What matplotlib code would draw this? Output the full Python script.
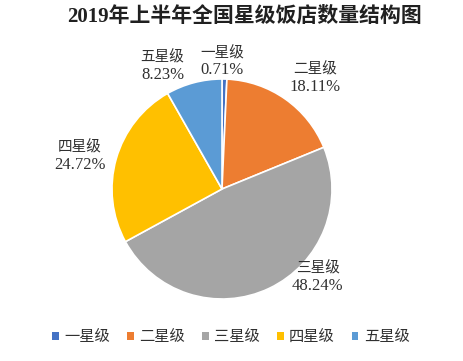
import matplotlib
matplotlib.use("Agg")
import matplotlib.pyplot as plt
from matplotlib.patches import Patch

plt.rcParams['font.family'] = ['Liberation Serif', 'Noto Sans CJK SC', 'DejaVu Sans']

# -----------------------
# Data
# -----------------------
categories = ["一星级", "二星级", "三星级", "四星级", "五星级"]
shares = [0.71, 18.11, 48.24, 24.72, 8.23]
colors = ["#4472C4", "#ED7D31", "#A5A5A5", "#FFC000", "#5B9BD5"]
title = "2019年上半年全国星级饭店数量结构图"

# label anchor offsets (in pie radius units), layout only
label_offsets = [(0.0, 1.16), (0.85, 1.01), (0.87, -0.80), (-1.29, 0.30), (-0.54, 1.12)]

fig = plt.figure(figsize=(4.64, 3.61), dpi=100)
ax = fig.add_axes([57 / 464, 7 / 361, 330 / 464, 330 / 361])

wedges, _ = ax.pie(shares, colors=colors, startangle=90, counterclock=False,
                   wedgeprops=dict(edgecolor="white", linewidth=1.2))
ax.set_xlim(-1.5, 1.5)
ax.set_ylim(-1.5, 1.5)
ax.set_aspect("equal")

for name, val, (dx, dy) in zip(categories, shares, label_offsets):
    ax.text(dx, dy + 0.01, name, ha="center", va="bottom",
            fontsize=10.5, color="#303030", clip_on=False)
    ax.text(dx, dy - 0.01, f"{val:.2f}%", ha="center", va="top",
            fontsize=12, color="#303030", clip_on=False)

fig.text(245 / 464, 1 - 17 / 361, title, ha="center", va="center",
         fontsize=15, fontweight="bold", color="#202020")

handles = [Patch(facecolor=c, edgecolor="none") for c in colors]
fig.legend(handles, categories, loc="center", bbox_to_anchor=(231 / 464, 1 - 337 / 361),
           ncol=5, frameon=False, fontsize=11, handlelength=0.45, handleheight=0.45,
           handletextpad=0.35, columnspacing=1.1, labelcolor="#303030")

fig.savefig("out.png", dpi=100)
